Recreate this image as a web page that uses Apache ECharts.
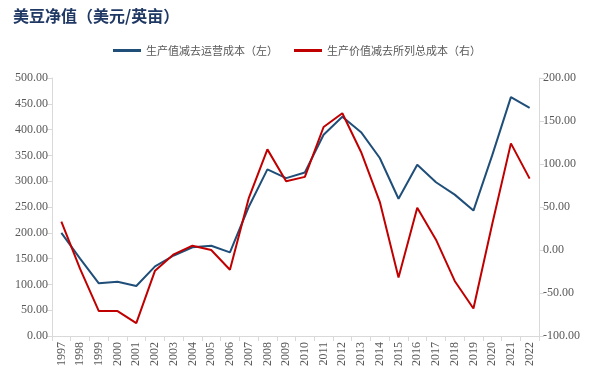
<!DOCTYPE html>
<html><head><meta charset="utf-8">
<script src="https://cdn.jsdelivr.net/npm/echarts@6/dist/echarts.min.js"></script>
<style>html,body{margin:0;padding:0;background:#fff}#c{width:594px;height:381px}</style>
</head><body><div id="c"></div>
<script>
const years = ['1997','1998','1999','2000','2001','2002','2003','2004','2005','2006','2007','2008','2009','2010','2011','2012','2013','2014','2015','2016','2017','2018','2019','2020','2021','2022'];
const opCost = [200,150,102,105,97,135,156,172,175,162,250,323,306,317,390,425,395,345,266,332,298,274,243,350,463,442];
const totalCost = [33,-22,-71,-71,-85,-24,-5,5,0,-23,60,117,80,85,143,159,114,56,-32,49,12,-36,-68,30,124,83];
const leftTicks = [0,500,50];
const rightTicks = [-100,200,50];
const chart = echarts.init(document.getElementById('c'));
const axisFont = {fontFamily:'Liberation Serif', fontSize:12, color:'#595959'};
chart.setOption({
  animation:false,
  title:{text:'美豆净值（美元/英亩）', left:8, top:3, textStyle:{fontFamily:'Noto Sans CJK SC', fontSize:16, fontWeight:'bold', color:'#1f3864'}},
  legend:{top:40, left:'center', itemWidth:28, itemHeight:3, itemGap:16, icon:'rect',
    textStyle:{fontFamily:'Noto Sans CJK SC', fontSize:11, color:'#595959'},
    data:['生产值减去运营成本（左）','生产价值减去所列总成本（右）']},
  grid:{left:52, right:55, top:78, bottom:45},
  xAxis:{type:'category', data:years, boundaryGap:true,
    axisLine:{lineStyle:{color:'#d9d9d9'}}, axisTick:{show:true, alignWithLabel:false, lineStyle:{color:'#d9d9d9'}},
    axisLabel:Object.assign({rotate:90, interval:0, margin:6}, axisFont)},
  yAxis:[
    {type:'value', min:leftTicks[0], max:leftTicks[1], interval:leftTicks[2], splitLine:{show:false},
     axisLine:{show:true, lineStyle:{color:'#d9d9d9'}}, axisTick:{show:true, lineStyle:{color:'#d9d9d9'}},
     axisLabel:Object.assign({formatter:v=>v.toFixed(2), margin:4}, axisFont)},
    {type:'value', min:rightTicks[0], max:rightTicks[1], interval:rightTicks[2], splitLine:{show:false},
     axisLine:{show:true, lineStyle:{color:'#d9d9d9'}}, axisTick:{show:true, lineStyle:{color:'#d9d9d9'}},
     axisLabel:Object.assign({formatter:v=>v.toFixed(2), margin:4}, axisFont)}
  ],
  series:[
    {name:'生产值减去运营成本（左）', type:'line', yAxisIndex:0, data:opCost, symbol:'none',
     lineStyle:{color:'#1f4e79', width:2}, itemStyle:{color:'#1f4e79'}},
    {name:'生产价值减去所列总成本（右）', type:'line', yAxisIndex:1, data:totalCost, symbol:'none',
     lineStyle:{color:'#c00000', width:2}, itemStyle:{color:'#c00000'}}
  ]
});
</script></body></html>
